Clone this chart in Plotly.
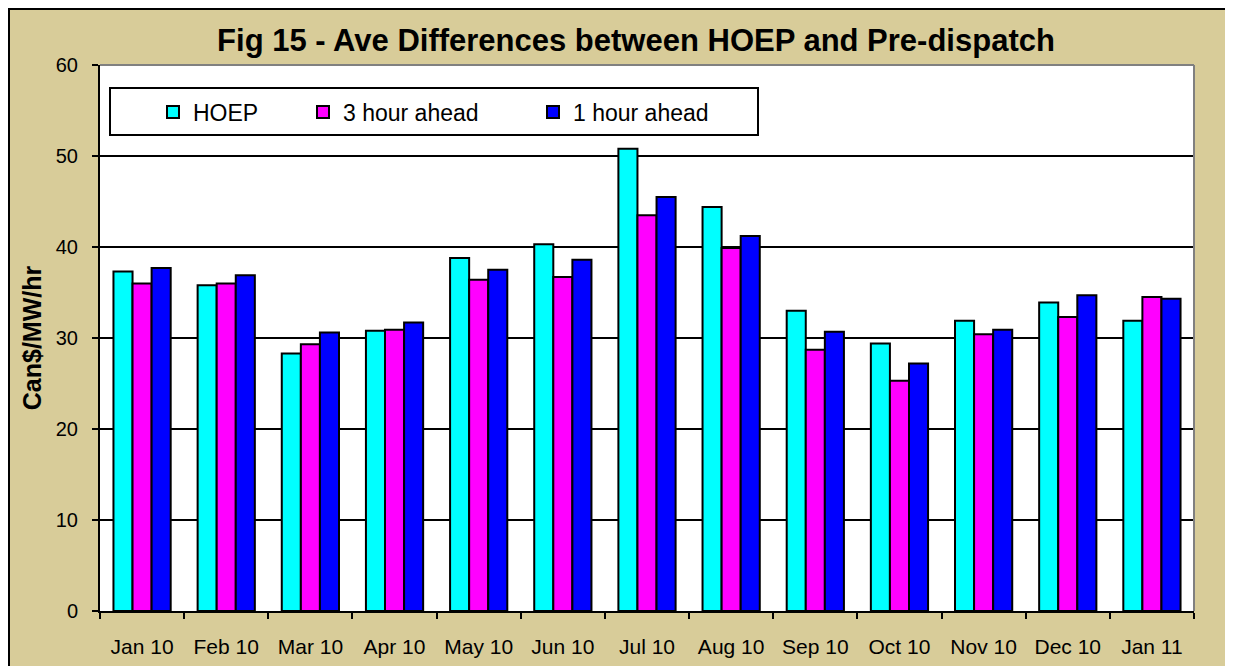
import plotly.graph_objects as go

W, H = 1233, 666
OFF = 8  # page body margin in the browser
# plot area as seen on screen (left, right, top, bottom)
L, R, T, B = 100, 1194, 65, 611

months = ["Jan 10", "Feb 10", "Mar 10", "Apr 10", "May 10", "Jun 10", "Jul 10",
          "Aug 10", "Sep 10", "Oct 10", "Nov 10", "Dec 10", "Jan 11"]
hoep = [37.3, 35.8, 28.3, 30.8, 38.8, 40.3, 50.8, 44.4, 33.0, 29.4, 31.9, 33.9, 31.9]
ahead_3h = [36.0, 36.0, 29.3, 30.9, 36.4, 36.7, 43.5, 39.9, 28.7, 25.3, 30.4, 32.3, 34.5]
ahead_1h = [37.7, 36.9, 30.6, 31.7, 37.5, 38.6, 45.5, 41.2, 30.7, 27.2, 30.9, 34.7, 34.3]

tan = "#D8CC99"
font = "Arial, Liberation Sans, sans-serif"


def px(x):
    return (x - L) / (R - L)


def py(y):
    return (B - y) / (B - T)


series = [
    ("HOEP", hoep, "#00FFFF", "legend", 153),
    ("3 hour ahead", ahead_3h, "#FF00FF", "legend2", 303),
    ("1 hour ahead", ahead_1h, "#0000FF", "legend3", 533),
]

fig = go.Figure()
for name, vals, col, leg, _ in series:
    fig.add_trace(go.Bar(x=months, y=vals, name=name, legend=leg,
                         marker=dict(color=col, line=dict(color="black", width=2))))

legend_style = dict(orientation="h", xref="paper", yref="paper",
                    yanchor="middle", xanchor="left", y=py(112),
                    bgcolor="rgba(0,0,0,0)", borderwidth=0,
                    font=dict(family=font, size=23, color="black"))
legends = {}
for name, vals, col, leg, x0 in series:
    legends[leg] = dict(legend_style, x=px(x0))

fig.update_layout(
    width=W, height=H,
    margin=dict(l=L - OFF, r=W - R + OFF, t=T - OFF, b=H - B + OFF, autoexpand=False),
    paper_bgcolor="white",
    plot_bgcolor="white",
    barmode="group", bargap=0.32, bargroupgap=0,
    showlegend=True,
    title=dict(text="<b>Fig 15 - Ave Differences between HOEP and Pre-dispatch</b>",
               x=(636 - OFF) / W, xanchor="center", y=1 - (40 - OFF) / H, yanchor="middle",
               font=dict(family=font, size=31, color="black")),
    font=dict(family=font, color="black"),
    **legends,
)

fig.update_xaxes(
    showline=True, linecolor="black", linewidth=2,
    ticks="outside", ticklen=6, tickcolor="black", tickwidth=2,
    tickson="boundaries", showgrid=False, ticklabelstandoff=16,
    tickfont=dict(family=font, size=21, color="black"),
)
fig.update_yaxes(
    range=[0, 60], dtick=10, showline=True, linecolor="black", linewidth=2,
    ticks="outside", ticklen=6, tickcolor="black", tickwidth=2,
    showgrid=True, gridcolor="black", gridwidth=1.5, zeroline=False,
    tickfont=dict(family=font, size=20, color="black"), ticklabelstandoff=10,
    title=dict(text="<b>Can$/MW/hr</b>", font=dict(family=font, size=25, color="black"),
               standoff=7),
)

shapes = [
    # tan outer frame with black border
    dict(type="rect", xref="paper", yref="paper", layer="below",
         x0=px(9), x1=px(W + 40), y0=py(H + 40), y1=py(9),
         fillcolor=tan, line=dict(color="black", width=2)),
    # white plot area
    dict(type="rect", xref="paper", yref="paper", layer="below",
         x0=0, x1=1, y0=0, y1=1, fillcolor="white", line=dict(width=0)),
    # gray border on top and right of plot area
    dict(type="line", xref="paper", yref="paper", x0=0, x1=1, y0=1, y1=1,
         line=dict(color="#808080", width=2)),
    dict(type="line", xref="paper", yref="paper", x0=1, x1=1, y0=0, y1=1,
         line=dict(color="#808080", width=2)),
    # legend box
    dict(type="rect", xref="paper", yref="paper",
         x0=px(110), x1=px(758), y0=py(135), y1=py(88),
         fillcolor="white", line=dict(color="black", width=2), layer="below"),
]
fig.update_layout(shapes=shapes)

fig.write_html("out.html")
